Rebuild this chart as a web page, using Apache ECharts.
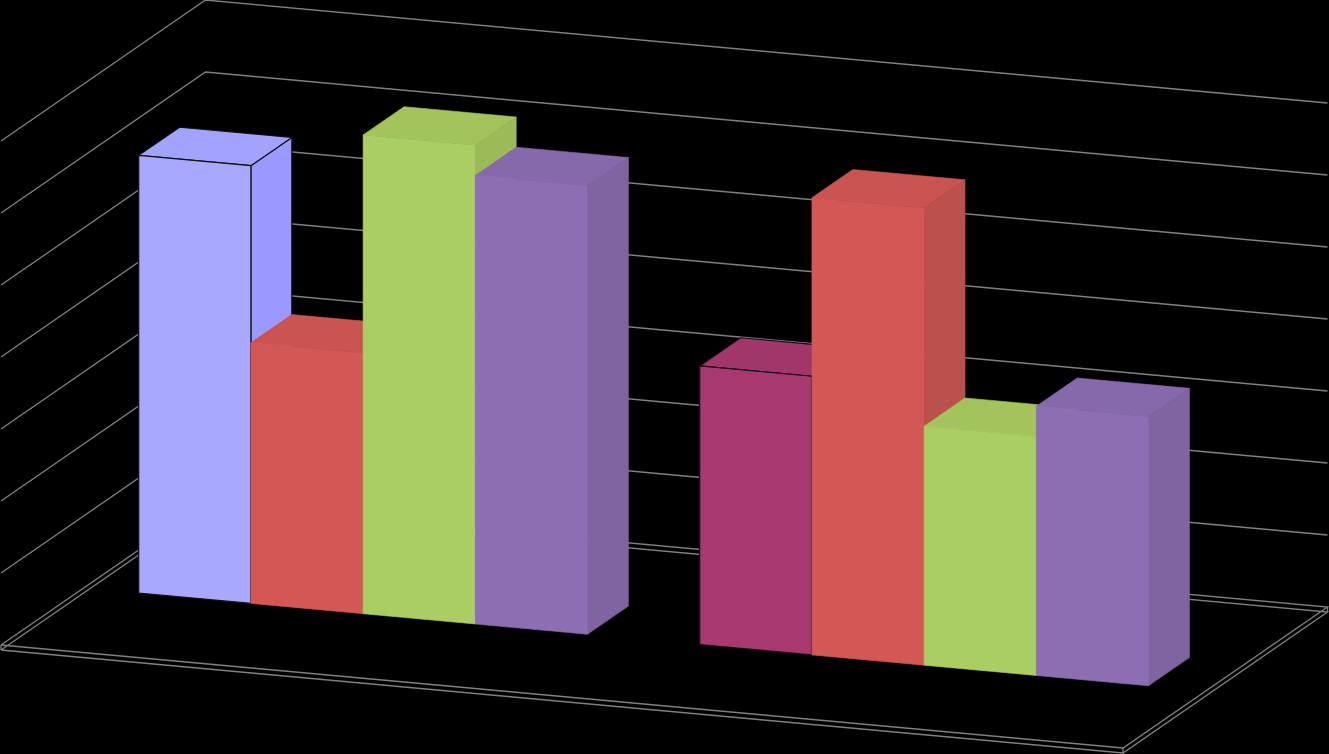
<!DOCTYPE html>
<html>
<head>
<meta charset="utf-8">
<style>html,body{margin:0;padding:0;background:#000;overflow:hidden}#c{width:1329px;height:754px}</style>
<script src="https://cdn.jsdelivr.net/npm/echarts@6/dist/echarts.min.js"></script>
</head>
<body>
<div id="c"></div>
<script>
// ---- data ----
const categories = ['Group 1', 'Group 2'];
const yTicks = [0, 1, 2, 3, 4, 5, 6, 7];
const series1 = [6.08, 3.87];
const series2 = [3.62, 6.35];
const series3 = [6.65, 3.32];
const series4 = [6.23, 3.74];
const seriesValues = [series1, series2, series3, series4];
const seriesNames = ['Series 1', 'Series 2', 'Series 3', 'Series 4'];

// ---- colours per series and point: front, top, side ----
const frontColors = [['#A8A8FF', '#A83870'], ['#D35855', '#D35855'], ['#AACE62', '#AACE62'], ['#8D6EB2', '#8D6EB2']];
const topColors = [['#A2A2FF', '#A1366B'], ['#CA5451', '#CA5451'], ['#A3C45D', '#A3C45D'], ['#8669AA', '#8669AA']];
const sideColors = [['#9999FF', '#993366'], ['#BC504D', '#BC504D'], ['#9BBB59', '#9BBB59'], ['#8064A2', '#8064A2']];
const outlined = [true, false, false, false];

// ---- oblique projection settings ----
const SHEAR = 0.0918, DEPTH_X = 40.9, DEPTH_Y = 28.2, WALL_DEPTH = 5, BAR_DEPTH_START = 2.02;
const GRID_LEFT = 1, GRID_TOP = 141, GRID_W = 1122, GRID_H = 504;
const BAR_SHIFT = -1.0, BAR_FRACTION = 0.2, SLAB = 5, LINE = '#808080';

function project(x, y, d) {
  return [x + DEPTH_X * d, y + SHEAR * (x - GRID_LEFT) - DEPTH_Y * d];
}

function barSeries(si) {
  return {
    name: seriesNames[si], type: 'custom', z: 5, silent: true, clip: false,
    encode: { x: 0, y: 1 },
    data: seriesValues[si].map((v, i) => [i, v]),
    renderItem(params, api) {
      const cat = api.value(0), val = api.value(1);
      const band = api.size([1, 0])[0];
      const center = api.coord([cat, 0]);
      const top = api.coord([cat, val])[1];
      const w = band * BAR_FRACTION;
      const x0 = center[0] + BAR_SHIFT + (si - 2) * w, x1 = x0 + w;
      const d0 = BAR_DEPTH_START, d1 = d0 + 1, base = center[1];
      const P = (x, y, d) => project(x, y, d);
      const poly = (pts, fill) => ({
        type: 'polygon', shape: { points: pts },
        style: outlined[si]
          ? { fill, stroke: '#111', lineWidth: 1.2 }
          : { fill, stroke: fill, lineWidth: 0.6 }
      });
      return {
        type: 'group',
        children: [
          poly([P(x1, base, d0), P(x1, base, d1), P(x1, top, d1), P(x1, top, d0)], sideColors[si][cat]),
          poly([P(x0, top, d0), P(x1, top, d0), P(x1, top, d1), P(x0, top, d1)], topColors[si][cat]),
          poly([P(x0, base, d0), P(x1, base, d0), P(x1, top, d0), P(x0, top, d0)], frontColors[si][cat])
        ]
      };
    }
  };
}

const wallSeries = {
  name: 'walls', type: 'custom', z: 1, silent: true, clip: false,
  encode: { x: 0, y: 1 },
  data: yTicks.map(t => [0, t]),
  renderItem(params, api) {
    const tick = api.value(1);
    const band = api.size([1, 0])[0];
    const c = api.coord([0, tick]);
    const xL = c[0] - band / 2, xR = xL + band * categories.length, y = c[1];
    const style = { fill: null, stroke: LINE, lineWidth: 1.3 };
    const path = pts => ({ type: 'polyline', shape: { points: pts }, style });
    if (tick !== 0) {
      return path([project(xL, y, 0), project(xL, y, WALL_DEPTH), project(xR, y, WALL_DEPTH)]);
    }
    const a = project(xL, y, 0), b = project(xR, y, 0), e = project(xR, y, WALL_DEPTH), f = project(xL, y, WALL_DEPTH);
    const low = p => [p[0], p[1] + SLAB];
    return {
      type: 'group',
      children: [
        path([a, b, e, f, a]),
        path([low(a), low(b), low(e), low(f), low(a)]),
        path([a, low(a)]), path([b, low(b)]), path([e, low(e)])
      ]
    };
  }
};

const chart = echarts.init(document.getElementById('c'), null, { renderer: 'canvas' });
chart.setOption({
  backgroundColor: '#000',
  animation: false,
  tooltip: { show: false },
  legend: { show: false },
  grid: { left: GRID_LEFT, top: GRID_TOP, width: GRID_W, height: GRID_H, containLabel: false },
  xAxis: { type: 'category', data: categories, show: false },
  yAxis: { type: 'value', min: yTicks[0], max: yTicks[yTicks.length - 1], interval: 1, show: false },
  series: [wallSeries].concat(seriesValues.map((_, si) => barSeries(si)))
});
</script>
</body>
</html>
